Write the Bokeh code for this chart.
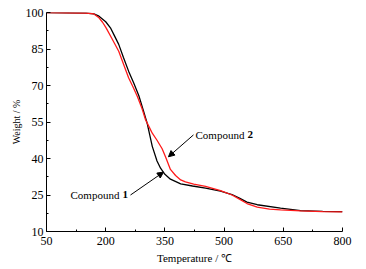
from bokeh.plotting import figure
from bokeh.models import Range1d, FixedTicker, Arrow, NormalHead
from bokeh.core.properties import value
from bokeh.embed import file_html
from bokeh.resources import INLINE

# Compound 1 (black)
temp1 = [50, 100, 150, 170, 183, 200, 212, 222, 233, 245, 258, 271, 284, 295, 305, 318,
         330, 339, 350, 364, 390, 420, 453, 491, 520, 540, 558, 584, 643, 694, 750, 800]
w1 = [100, 99.9, 99.8, 99.4, 98.5, 96.2, 93.7, 90.5, 86.9, 81.5, 75.9, 71.0, 65.8, 60.0,
      54.5, 45.0, 39.0, 36.0, 33.5, 31.5, 29.6, 28.7, 27.8, 26.6, 25.2, 23.6, 22.1, 21.0,
      19.6, 18.6, 18.3, 18.2]
# Compound 2 (red)
temp2 = [50, 100, 150, 170, 183, 192, 201, 215, 233, 245, 258, 269, 280, 291, 301, 310,
         318, 330, 343, 352, 364, 377, 390, 402, 423, 453, 491, 520, 540, 558, 584, 615,
         643, 694, 750, 800]
w2 = [100, 99.9, 99.8, 99.4, 97.8, 96.0, 93.7, 89.5, 84.1, 78.8, 73.2, 69.5, 65.6, 61.0,
      55.9, 53.0, 50.4, 47.5, 44.0, 40.5, 35.5, 33.0, 31.2, 30.4, 29.5, 28.5, 26.8, 25.0,
      23.2, 21.5, 20.0, 19.2, 18.9, 18.5, 18.2, 18.1]

x_ticks = [50, 200, 350, 500, 650, 800]
x_minor = [125, 275, 425, 575, 725]
y_ticks = [10, 25, 40, 55, 70, 85, 100]
y_minor = [17.5, 32.5, 47.5, 62.5, 77.5, 92.5]

# annotations: label anchor (x, y) and arrow start/end in data units
label1 = (110.8, 25.1)
arrow1 = (262.8, 25.0, 346.4, 34.4)
label2 = (427.5, 49.7)
arrow2 = (422.4, 49.7, 359.0, 40.7)

FONT = "'Liberation Serif', 'Times New Roman', serif"

p = figure(width=358, height=268, output_backend="svg", toolbar_location=None,
           x_range=Range1d(50, 800), y_range=Range1d(10, 100),
           min_border_left=46, min_border_right=16, min_border_top=12, min_border_bottom=37)
p.outline_line_color = None
p.xgrid.visible = False
p.ygrid.visible = False
p.background_fill_color = "white"
p.border_fill_color = "white"

p.line(temp1, w1, line_color="black", line_width=1.3)
p.line(temp2, w2, line_color="#ff1a1a", line_width=1.3)

for ax, ticks, minor in ((p.xaxis[0], x_ticks, x_minor), (p.yaxis[0], y_ticks, y_minor)):
    ax.ticker = FixedTicker(ticks=ticks, minor_ticks=minor)
    ax.major_tick_in = 4
    ax.major_tick_out = 0
    ax.minor_tick_in = 2
    ax.minor_tick_out = 0
    ax.axis_line_color = "black"
    ax.major_tick_line_color = "black"
    ax.minor_tick_line_color = "black"
    ax.major_label_text_font = FONT
    ax.major_label_text_font_size = "12px"
    ax.major_label_text_color = "black"
    ax.axis_label_text_font = FONT
    ax.axis_label_text_font_size = "11px"
    ax.axis_label_text_font_style = "normal"
    ax.axis_label_text_color = "black"

p.xaxis[0].axis_label = "Temperature / ℃"
p.yaxis[0].axis_label = "Weight / %"
p.yaxis[0].axis_label_text_font_size = "10px"
p.xaxis[0].major_label_standoff = 5
p.xaxis[0].axis_label_standoff = 4
p.yaxis[0].major_label_standoff = 3
p.yaxis[0].axis_label_standoff = 1

p.text(x=[label1[0]], y=[label1[1]], text=["Compound"], text_font=value(FONT),
       text_font_size="11px", text_baseline="middle", text_align="left", text_color="black")
p.text(x=[label1[0]], y=[label1[1]], text=["1"], text_font=value(FONT), x_offset=52,
       text_font_size="11px", text_font_style="bold", text_baseline="middle",
       text_align="left", text_color="black")
p.text(x=[label2[0]], y=[label2[1]], text=["Compound"], text_font=value(FONT),
       text_font_size="11px", text_baseline="middle", text_align="left", text_color="black")
p.text(x=[label2[0]], y=[label2[1]], text=["2"], text_font=value(FONT), x_offset=52,
       text_font_size="11px", text_font_style="bold", text_baseline="middle",
       text_align="left", text_color="black")

for (xs, ys, xe, ye) in (arrow1, arrow2):
    p.add_layout(Arrow(end=NormalHead(size=6, fill_color="black", line_color="black"),
                       x_start=xs, y_start=ys, x_end=xe, y_end=ye,
                       line_color="black", line_width=1))

open("out.html", "w").write(file_html(p, INLINE))
